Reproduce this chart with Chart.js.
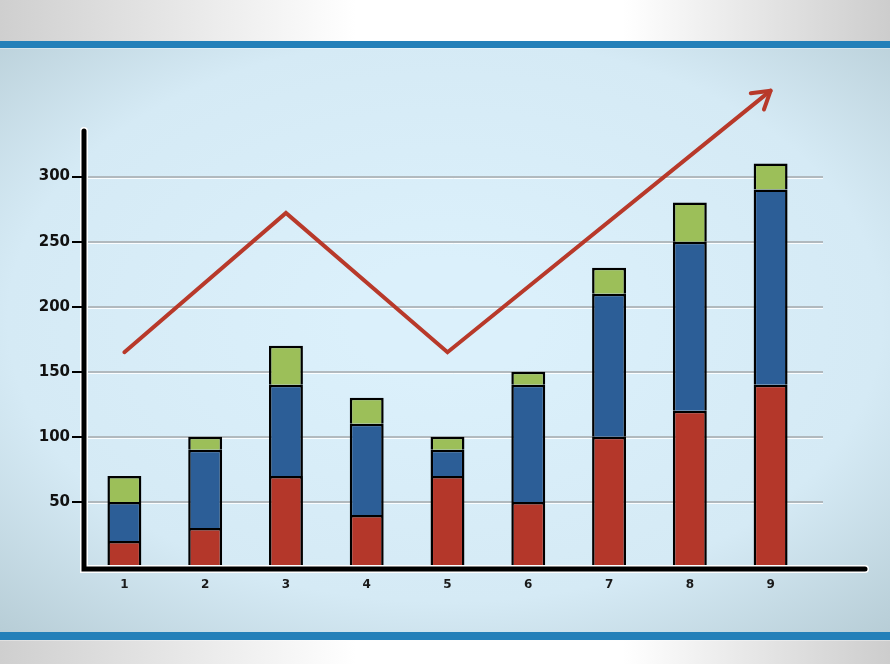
<!DOCTYPE html>
<html>
<head>
<meta charset="utf-8">
<script src="https://cdn.jsdelivr.net/npm/chart.js@4.4.1/dist/chart.umd.min.js"></script>
<style>
    html, body { margin: 0; padding: 0; background: #fff; }
    #wrap { width: 890px; height: 664px; position: relative; }
</style>
</head>
<body>
<div id="wrap"><canvas id="growthChart"></canvas></div>
<script>
const categories = ['1', '2', '3', '4', '5', '6', '7', '8', '9'];
const redValues = [20, 30, 70, 40, 70, 50, 100, 120, 140];
const blueValues = [30, 60, 70, 70, 20, 90, 110, 130, 150];
const greenValues = [20, 10, 30, 20, 10, 10, 20, 30, 20];
const trendValues = [165, null, 272, null, 165, null, null, null, 366];
const yTickValues = [50, 100, 150, 200, 250, 300];

document.addEventListener('DOMContentLoaded', () => {
    const canvas = document.getElementById('growthChart');
    const ctx = canvas.getContext('2d');

    // background: grey/white bands with blue stripes and a light blue panel
    const backdrop = {
        id: 'backdrop',
        beforeDraw(chart) {
            const c = chart.ctx;
            const w = chart.width, h = chart.height;
            c.save();
            const side = c.createLinearGradient(0, 0, w, 0);
            side.addColorStop(0, '#cfcfcf');
            side.addColorStop(0.4, '#ffffff');
            side.addColorStop(0.7, '#ffffff');
            side.addColorStop(1, '#cdcdcd');
            c.fillStyle = side;
            c.fillRect(0, 0, w, h);

            // panel
            c.save();
            c.beginPath();
            c.rect(0, 48, w, 584);
            c.clip();
            c.translate(w / 2, 320);
            c.scale(1.55, 1);
            const rg = c.createRadialGradient(0, 0, 60, 0, 0, 430);
            rg.addColorStop(0, '#dbf0fb');
            rg.addColorStop(0.6, '#d5eaf5');
            rg.addColorStop(1, '#b6ccd5');
            c.fillStyle = rg;
            c.fillRect(-w, -400, 2 * w, 800);
            c.restore();

            c.fillStyle = '#2480b9';
            c.fillRect(0, 41, w, 7);
            c.fillRect(0, 632, w, 8);
            c.fillStyle = 'rgba(255,255,255,0.35)';
            c.fillRect(0, 48, w, 1);
            c.fillRect(0, 640, w, 1);
            c.restore();
        },
        beforeDatasetsDraw(chart) {
            const c = chart.ctx;
            const area = chart.chartArea;
            const y = chart.scales.y;
            c.save();
            yTickValues.forEach(v => {
                const py = Math.round(y.getPixelForValue(v));
                c.strokeStyle = 'rgba(255,255,255,0.9)';
                c.lineWidth = 1;
                c.beginPath();
                c.moveTo(area.left, py + 1.5);
                c.lineTo(area.right + 12, py + 1.5);
                c.stroke();
                c.strokeStyle = '#a4a9ab';
                c.lineWidth = 1.5;
                c.beginPath();
                c.moveTo(area.left, py);
                c.lineTo(area.right + 12, py);
                c.stroke();
            });
            c.restore();
        },
        afterDatasetsDraw(chart) {
            const c = chart.ctx;
            const area = chart.chartArea;
            const y = chart.scales.y;
            const zero = y.getPixelForValue(0);
            c.save();
            c.lineCap = 'round';
            // axes with white halo
            [['#ffffff', 8], ['#000000', 5]].forEach(([col, lw]) => {
                c.strokeStyle = col;
                c.lineWidth = lw;
                c.beginPath();
                c.moveTo(area.left, area.top);
                c.lineTo(area.left, zero + 2);
                c.lineTo(area.right + 54, zero + 2);
                c.stroke();
            });
            // tick marks
            c.strokeStyle = '#000';
            c.lineWidth = 2;
            c.lineCap = 'butt';
            yTickValues.forEach(v => {
                const py = Math.round(y.getPixelForValue(v));
                c.beginPath();
                c.moveTo(area.left - 12, py);
                c.lineTo(area.left, py);
                c.stroke();
            });

            // arrow head on trend line
            const meta = chart.getDatasetMeta(3);
            const pts = meta.data.filter((p, i) => trendValues[i] !== null);
            const a = pts[pts.length - 2], b = pts[pts.length - 1];
            const ang = Math.atan2(b.y - a.y, b.x - a.x);
            const len = 20;
            c.strokeStyle = '#b8392a';
            c.lineWidth = 4;
            c.lineCap = 'round';
            c.lineJoin = 'round';
            c.beginPath();
            c.moveTo(b.x + len * Math.cos(ang + Math.PI - 0.55), b.y + len * Math.sin(ang + Math.PI - 0.55));
            c.lineTo(b.x, b.y);
            c.lineTo(b.x + len * Math.cos(ang + Math.PI + 0.55), b.y + len * Math.sin(ang + Math.PI + 0.55));
            c.stroke();
            c.restore();
        }
    };

    const barStyle = {
        borderColor: '#000',
        borderWidth: 2.5,
        barPercentage: 0.42,
        categoryPercentage: 1,
        stack: 'a',
        order: 1
    };

    new Chart(ctx, {
        type: 'bar',
        data: {
            labels: categories,
            datasets: [
                { ...barStyle, label: 'Red', data: redValues, backgroundColor: '#b4372a' },
                { ...barStyle, label: 'Blue', data: blueValues, backgroundColor: '#2c5e97' },
                { ...barStyle, label: 'Green', data: greenValues, backgroundColor: '#9cbf59' },
                {
                    type: 'line',
                    label: 'Trend',
                    data: trendValues,
                    borderColor: '#b8392a',
                    borderWidth: 4,
                    pointRadius: 0,
                    tension: 0,
                    spanGaps: true,
                    clip: false,
                    order: 0,
                    borderCapStyle: 'round',
                    borderJoinStyle: 'miter'
                }
            ]
        },
        options: {
            responsive: true,
            maintainAspectRatio: false,
            animation: false,
            devicePixelRatio: 1,
            layout: { padding: { left: 0, top: 131, right: 79, bottom: 0 } },
            plugins: {
                legend: { display: false },
                tooltip: { enabled: false }
            },
            scales: {
                x: {
                    stacked: true,
                    grid: { display: false },
                    border: { display: false },
                    ticks: {
                        color: '#1a1a1a',
                        padding: 3,
                        font: { family: 'DejaVu Sans', size: 12, weight: 'bold' }
                    },
                    afterFit: (scale) => { scale.height = 97; }
                },
                y: {
                    stacked: true,
                    min: 0,
                    max: 335,
                    grid: { display: false },
                    border: { display: false },
                    afterBuildTicks: (scale) => {
                        scale.ticks = yTickValues.map(v => ({ value: v }));
                    },
                    ticks: {
                        color: '#111',
                        padding: 6,
                        font: { family: 'DejaVu Sans', size: 15, weight: 'bold' }
                    },
                    afterFit: (scale) => { scale.width = 84; }
                }
            }
        },
        plugins: [backdrop]
    });
});
</script>
</body>
</html>
